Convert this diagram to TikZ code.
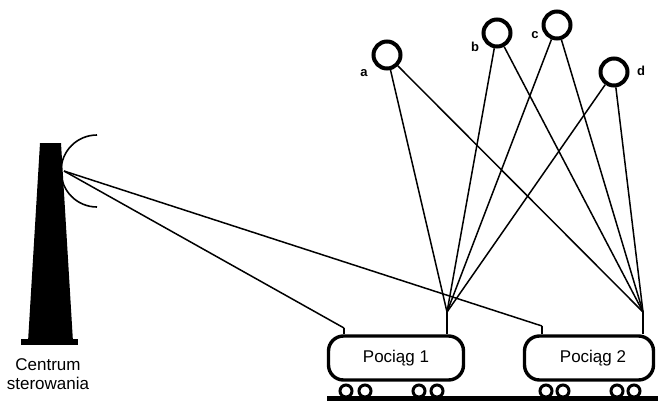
\documentclass[tikz,border=0pt]{standalone}
\usepackage{fontspec}
\setmainfont{Liberation Sans}
\begin{document}
\begin{tikzpicture}[x=1pt,y=-1pt,
  link/.style={line width=1.5pt},
  sat/.style={circle,draw,line width=4pt,minimum size=27pt,inner sep=0pt},
  satlabel/.style={font=\bfseries\fontsize{13}{13}\selectfont,inner sep=0pt},
  wagon/.style={draw,line width=3.4pt,rounded corners=15pt,minimum height=44pt,font=\fontsize{17}{17}\selectfont},
  wheel/.style={draw,line width=3pt,circle,minimum size=12pt,inner sep=0pt},
  stub/.style={line width=2.6pt},
  caption/.style={font=\fontsize{17}{19}\selectfont,align=center,inner sep=0pt}]
\useasboundingbox (0,0) rectangle (660,401);

% control tower
\fill (40,143) -- (61,143) -- (73,342) -- (28,342) -- cycle;
\fill (21,339) rectangle (78,345);
\coordinate (tx) at (64,171);
\draw[line width=1.6pt] (97,135) arc[start angle=270,end angle=90,radius=36];
\node[caption] (centre) at (48,374) {Centrum\\sterowania};

% satellites
\node[sat] (a) at (387,55) {};
\node[sat] (b) at (497,33) {};
\node[sat] (c) at (557,25) {};
\node[sat] (d) at (614,72) {};
\node[satlabel] (la) at (364,73) {a};
\node[satlabel] (lb) at (475,47) {b};
\node[satlabel] (lc) at (535,35) {c};
\node[satlabel] (ld) at (641,71) {d};

% trains
\node[wagon,minimum width=135pt] (t1) at (396,358) {Pociąg 1};
\node[wagon,minimum width=129pt] (t2) at (589,358) {\hspace*{8pt}Pociąg 2};

% roof antennas
\coordinate (r1) at (447,312);
\coordinate (r2) at (643,312);
\coordinate (f1) at (344,328);
\coordinate (f2) at (542,326);
\draw[stub] (r1) -- (r1 |- t1.north);
\draw[stub] (r2) -- (r2 |- t2.north);
\draw[stub] (f1) -- (f1 |- t1.north);
\draw[stub] (f2) -- (f2 |- t2.north);

% wheels
\foreach \x [count=\i] in {346,365,419,437,546,563,617,634}
  \node[wheel] (w\i) at (\x,391) {};
% track
\fill (327,396) rectangle (658,401);

% radio links from the control centre
\draw[link] (tx) -- (f1);
\draw[link] (tx) -- (f2);

% satellite links
\draw[link] (a) -- (r1);
\draw[link] (a) -- (r2);
\draw[link] (b) -- (r1);
\draw[link] (b) -- (r2);
\draw[link] (c) -- (r1);
\draw[link] (c) -- (r2);
\draw[link] (d) -- (r1);
\draw[link] (d) -- (r2);
\end{tikzpicture}
\end{document}
